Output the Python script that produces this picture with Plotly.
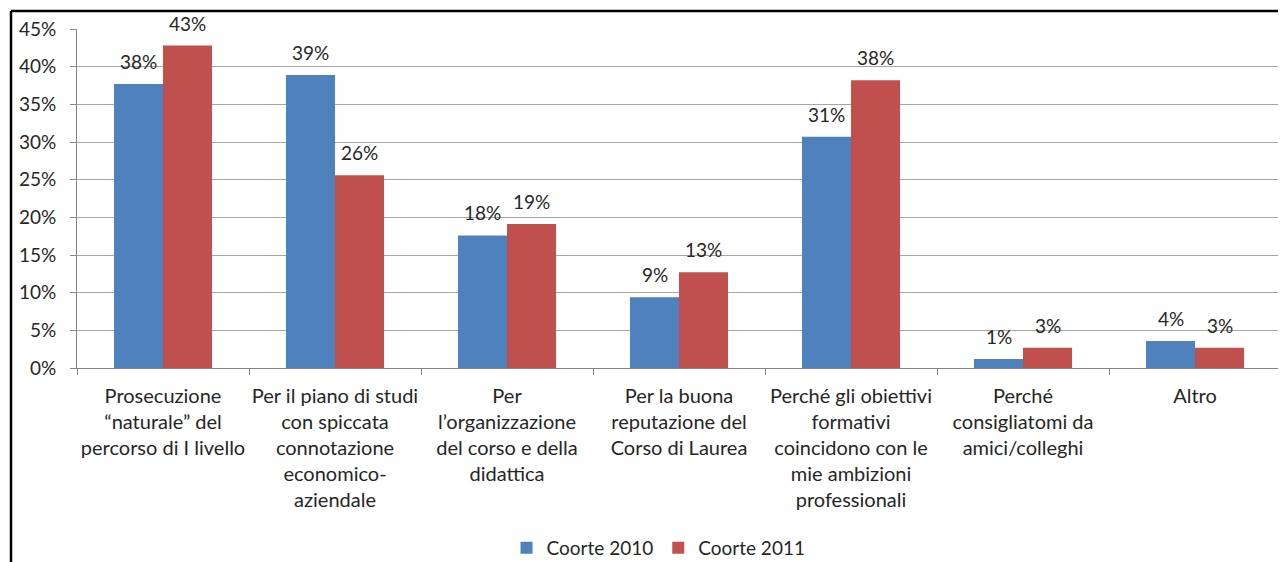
import plotly.graph_objects as go

categories = [
    "Prosecuzione<br>“naturale” del<br>percorso di I livello",
    "Per il piano di studi<br>con spiccata<br>connotazione<br>economico-<br>aziendale",
    "Per<br>l’organizzazione<br>del corso e della<br>didattica",
    "Per la buona<br>reputazione del<br>Corso di Laurea",
    "Perché gli obiettivi<br>formativi<br>coincidono con le<br>mie ambizioni<br>professionali",
    "Perché<br>consigliatomi da<br>amici/colleghi",
    "Altro",
]
coorte_2010 = [0.377, 0.389, 0.176, 0.094, 0.307, 0.012, 0.036]
coorte_2011 = [0.428, 0.256, 0.191, 0.127, 0.382, 0.027, 0.027]
series_names = ["Coorte 2010", "Coorte 2011"]
y_ticks = [0, 0.05, 0.10, 0.15, 0.20, 0.25, 0.30, 0.35, 0.40, 0.45]

FONT = "Lato, 'Open Sans', sans-serif"
TXT = "#262626"

fig = go.Figure()
series = [(series_names[0], coorte_2010, "#4F81BD", -24.5),
          (series_names[1], coorte_2011, "#C0504D", 24.5)]
for name, vals, col, shift in series:
    fig.add_trace(go.Bar(
        x=categories, y=vals, name=name, marker_color=col,
        marker_line_width=0,
    ))
    for c, v in zip(categories, vals):
        fig.add_annotation(
            x=c, y=v, xref="x", yref="y", text=f"{round(v * 100)}%",
            showarrow=False, xshift=shift, yshift=9, yanchor="bottom",
            font=dict(family=FONT, size=19, color=TXT),
        )

fig.update_layout(
    width=1278, height=554,
    margin=dict(l=69, r=5, t=21, b=194, autoexpand=False),
    paper_bgcolor="white", plot_bgcolor="white",
    barmode="group", bargap=0.43, bargroupgap=0,
    font=dict(family=FONT, size=19, color=TXT),
    legend=dict(orientation="h", x=0.483, xanchor="center", y=-0.531,
                yanchor="middle", font=dict(size=19, color=TXT),
                itemwidth=30, traceorder="normal"),
    showlegend=True,
)
fig.update_xaxes(
    tickson="boundaries", ticks="outside", ticklen=6, tickcolor="#868686",
    showline=True, linecolor="#868686", linewidth=1,
    tickfont=dict(family=FONT, size=20, color=TXT),
    tickangle=0, showgrid=False, automargin=False, ticklabelstandoff=10,
)
fig.update_yaxes(
    range=[0, 0.45], tickvals=y_ticks, tickformat=".0%",
    ticks="outside", ticklen=6, tickcolor="#868686",
    showline=True, linecolor="#868686", linewidth=1,
    showgrid=True, gridcolor="#A6A6A6", gridwidth=1,
    tickfont=dict(family=FONT, size=19, color=TXT),
    zeroline=False, automargin=False, ticklabelstandoff=10,
)
# outer chart frame (top and left edges visible)
fig.add_shape(type="line", xref="paper", yref="paper",
              x0=-66/1204, x1=1.01, y0=1 + 18/339, y1=1 + 18/339,
              line=dict(color="black", width=2.5))
fig.add_shape(type="line", xref="paper", yref="paper",
              x0=-66/1204, x1=-66/1204, y0=1 + 18/339, y1=-0.6,
              line=dict(color="black", width=2.5))

fig.write_html("out.html")
